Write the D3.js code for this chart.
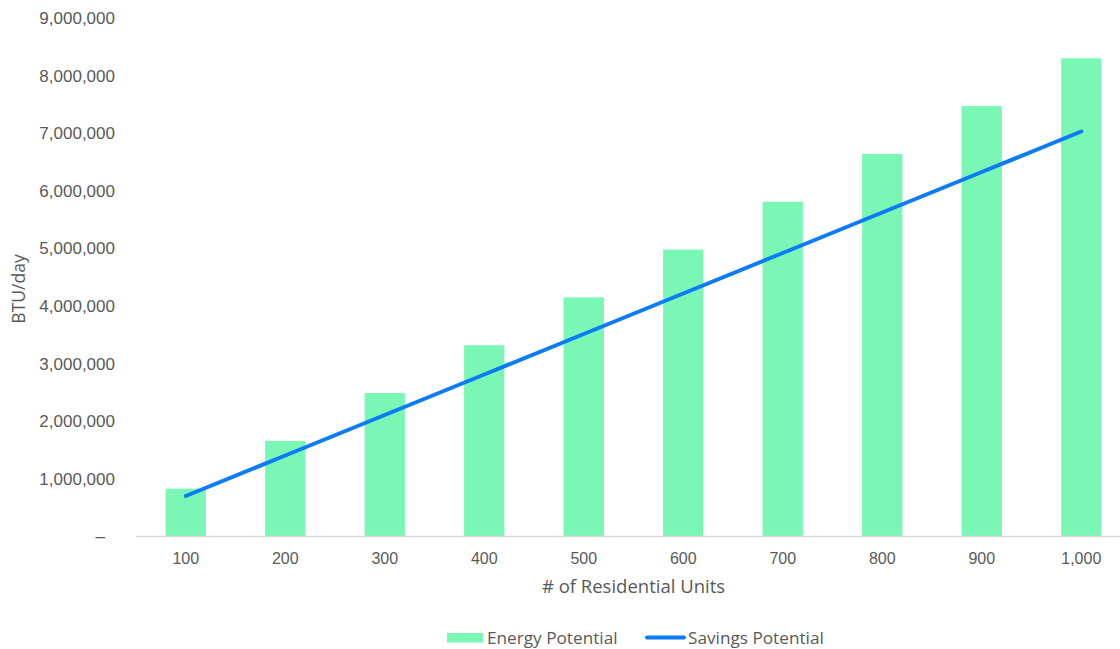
<!DOCTYPE html>
<html>
<head>
<meta charset="utf-8">
<script src="https://cdn.jsdelivr.net/npm/d3@7"></script>
<style>
  html, body { margin: 0; padding: 0; background: #ffffff; }
  svg { display: block; font-family: "Open Sans", Lato, sans-serif; }
</style>
</head>
<body>
<svg id="chart" width="1120" height="649"></svg>
<script>
// Residential units and the two energy series (BTU/day)
const units = ["100", "200", "300", "400", "500", "600", "700", "800", "900", "1,000"];
const energyPotential = [830000, 1660000, 2490000, 3320000, 4150000, 4980000, 5810000, 6640000, 7470000, 8300000];
const savingsPotential = [703000, 1406000, 2109000, 2812000, 3515000, 4218000, 4921000, 5624000, 6327000, 7030000];
const yTicks = [0, 1000000, 2000000, 3000000, 4000000, 5000000, 6000000, 7000000, 8000000, 9000000];

const svg = d3.select("#chart");
const textColor = "#595959";
const plotLeft = 136, plotRight = 1131;
const plotMid = (plotLeft + plotRight) / 2;

const x = d3.scaleBand().domain(units).range([plotLeft, plotRight]).paddingInner(0.595).paddingOuter(0.2975);
const y = d3.scaleLinear().domain([0, 9000000]).range([536.5, 18]);

// Bars
svg.append("g").selectAll("rect")
  .data(energyPotential)
  .join("rect")
  .attr("x", (d, i) => x(units[i]))
  .attr("y", d => y(d))
  .attr("width", x.bandwidth())
  .attr("height", d => y(0) - y(d))
  .attr("fill", "#7af7b4");

// Y axis (labels only)
const fmt = d3.format(",");
const yAxis = d3.axisLeft(y).tickValues(yTicks).tickSize(0).tickPadding(0)
  .tickFormat(d => d === 0 ? "–" : fmt(d));
const gy = svg.append("g").attr("transform", "translate(115,0)").call(yAxis);
gy.select(".domain").remove();
gy.selectAll("text").attr("fill", textColor).style("font-size", "17px")
  .attr("x", d => d === 0 ? -10 : 0);

// X axis
const xAxis = d3.axisBottom(x).tickSize(0).tickPadding(16);
const gx = svg.append("g").attr("transform", `translate(0,${y(0)})`).call(xAxis);
gx.select(".domain").attr("stroke", "#d9d9d9").attr("stroke-width", 1.5)
  .attr("d", `M${plotLeft},0H${plotRight}`);
gx.selectAll("text").attr("fill", textColor).style("font-size", "16px");

// Savings line
const line = d3.line()
  .x((d, i) => x(units[i]) + x.bandwidth() / 2)
  .y(d => y(d));
svg.append("path")
  .datum(savingsPotential)
  .attr("d", line)
  .attr("fill", "none")
  .attr("stroke", "#0b7bf6")
  .attr("stroke-width", 4)
  .attr("stroke-linecap", "round")
  .attr("stroke-linejoin", "round");

// Axis titles
svg.append("text")
  .attr("x", plotMid).attr("y", 593)
  .attr("text-anchor", "middle")
  .attr("fill", textColor)
  .style("font-size", "18.5px")
  .text("# of Residential Units");

svg.append("text")
  .attr("transform", "translate(25,289) rotate(-90)")
  .attr("text-anchor", "middle")
  .attr("fill", textColor)
  .style("font-size", "17.5px")
  .text("BTU/day");

// Legend
const legend = svg.append("g");
legend.append("rect").attr("x", 447).attr("y", 633).attr("width", 36).attr("height", 9.5).attr("fill", "#7af7b4");
legend.append("text").attr("x", 487).attr("y", 643.5).attr("fill", textColor).style("font-size", "17.2px").text("Energy Potential");
legend.append("line").attr("x1", 647).attr("x2", 684).attr("y1", 637.5).attr("y2", 637.5)
  .attr("stroke", "#0b7bf6").attr("stroke-width", 4).attr("stroke-linecap", "round");
legend.append("text").attr("x", 688).attr("y", 643.5).attr("fill", textColor).style("font-size", "17.2px").text("Savings Potential");
</script>
</body>
</html>
